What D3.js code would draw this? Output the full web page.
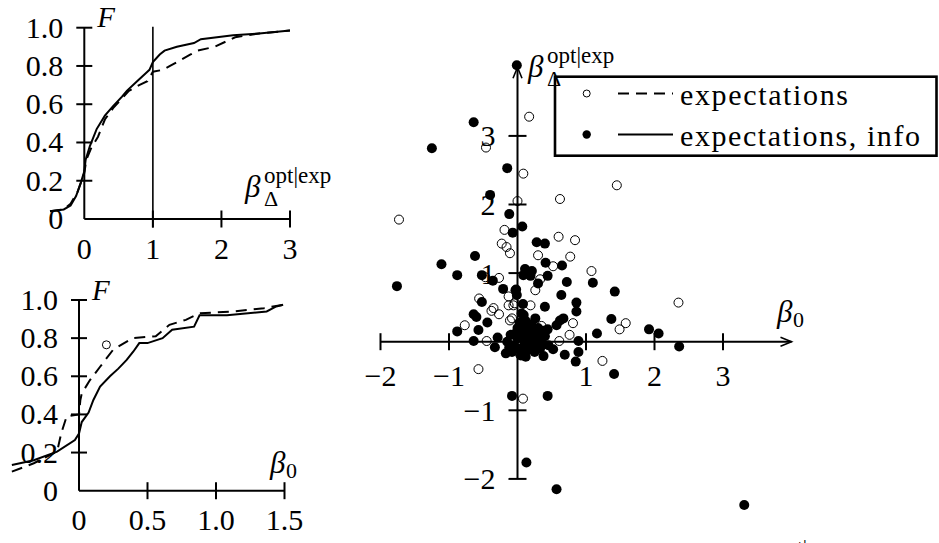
<!DOCTYPE html>
<html>
<head>
<meta charset="utf-8">
<script src="https://cdn.jsdelivr.net/npm/d3@7"></script>
<style>
body { margin: 0; background: #fff; }
svg text { font-family: "Liberation Serif", "Times New Roman", serif; fill: #000; }
</style>
</head>
<body>
<script>
// tick values / labels
let fTicks = [0, 0.2, 0.4, 0.6, 0.8, 1.0];
let fTickLabels = ["0", "0.2", "0.4", "0.6", "0.8", "1.0"];
let deltaTicks = [0, 1, 2, 3];
let deltaTickLabels = ["0", "1", "2", "3"];
let b0Ticks = [0, 0.5, 1.0, 1.5];
let b0TickLabels = ["0", "0.5", "1.0", "1.5"];
let scatterTicks = [-2, -1, 1, 2, 3];

// empirical CDF of beta_Delta^{opt|exp}  [value, F]
let cdfDeltaExp = [[-0.5, 0.04], [-0.3, 0.05], [-0.2, 0.08], [-0.1, 0.14], [-0.04, 0.2], [0, 0.24],
    [0.03, 0.31], [0.1, 0.37], [0.2, 0.43], [0.3, 0.52], [0.42, 0.58], [0.55, 0.63], [0.65, 0.67],
    [0.8, 0.7], [0.92, 0.72], [1.0, 0.77], [1.15, 0.78], [1.25, 0.8], [1.4, 0.83], [1.55, 0.86],
    [1.65, 0.88], [1.9, 0.9], [2.2, 0.95], [2.55, 0.97], [2.85, 0.98], [3.0, 0.985]];
let cdfDeltaInfo = [[-0.5, 0.04], [-0.3, 0.05], [-0.2, 0.07], [-0.12, 0.12], [-0.05, 0.19], [0, 0.25],
    [0.02, 0.31], [0.08, 0.38], [0.18, 0.47], [0.3, 0.54], [0.42, 0.59], [0.55, 0.64], [0.62, 0.67],
    [0.77, 0.72], [0.92, 0.77], [0.95, 0.78], [1.0, 0.82], [1.1, 0.86], [1.17, 0.88], [1.35, 0.9],
    [1.6, 0.92], [1.7, 0.94], [2.17, 0.96], [2.55, 0.97], [2.85, 0.98], [3.0, 0.985]];

// empirical CDF of beta_0  [value, F]
let cdfB0Exp = [[-0.49, 0.10], [-0.33, 0.144], [-0.16, 0.205], [-0.13, 0.30], [-0.09, 0.39], [0, 0.40],
    [0.01, 0.476], [0.02, 0.51], [0.08, 0.58], [0.154, 0.65], [0.25, 0.74], [0.32, 0.77], [0.39, 0.80],
    [0.56, 0.81], [0.66, 0.87], [0.78, 0.896], [0.88, 0.93], [1.13, 0.94], [1.35, 0.957], [1.49, 0.975]];
let cdfB0Info = [[-0.49, 0.135], [-0.33, 0.16], [-0.16, 0.205], [-0.03, 0.266], [0, 0.30], [0.02, 0.36],
    [0.07, 0.41], [0.105, 0.476], [0.154, 0.546], [0.226, 0.60], [0.287, 0.64], [0.348, 0.686],
    [0.397, 0.73], [0.44, 0.774], [0.5, 0.774], [0.61, 0.80], [0.68, 0.844], [0.84, 0.86], [0.88, 0.92],
    [1.08, 0.92], [1.37, 0.94], [1.44, 0.966], [1.49, 0.975]];
let cdfB0Stray = [[0.2, 0.765]];

// scatter [beta_0, beta_Delta]
let scatterExp = [[0.17, 3.28], [-0.46, 2.83], [0.085, 2.45], [1.45, 2.28], [0.62, 2.08], [0, 2.05],
    [-1.73, 1.78], [-0.19, 1.63], [-0.23, 1.43], [-0.16, 1.38], [-0.11, 1.29], [0.60, 1.53], [0.84, 1.48],
    [0.30, 1.26], [0.77, 1.24], [0.52, 1.10], [1.08, 1.03], [-0.47, 0.94], [-0.27, 0.93], [0.33, 0.91],
    [0.26, 0.75], [-0.13, 0.66], [-0.56, 0.63], [-0.35, 0.49], [-0.06, 0.53], [0.19, 0.53], [-0.38, 0.45],
    [-0.27, 0.40], [-0.11, 0.31], [-0.08, 0.34], [-0.77, 0.24], [-0.45, 0.01], [0.81, 0.27], [1.49, 0.18],
    [1.58, 0.27], [0.76, 0.10], [0.61, 0.01], [0.35, 0.23], [0.04, -0.19], [1.24, -0.28], [-0.57, -0.40],
    [0.08, -0.83], [2.35, 0.57], [-0.04, 0.56], [-0.13, 0.53]];
let scatterInfo = [[-0.01, 4.03], [-0.64, 3.20], [-1.25, 2.82], [-0.15, 2.53], [-0.40, 2.14], [-0.12, 1.86],
    [-0.07, 1.59], [0.07, 1.68], [-0.62, 1.25], [-1.11, 1.13], [-0.88, 0.97], [-1.76, 0.81], [-0.52, 0.97],
    [-0.36, 0.89], [-0.21, 0.77], [-0.03, 0.75], [-0.52, 0.58], [0.28, 1.45], [0.40, 1.43], [0.41, 1.15],
    [0.65, 1.11], [0.11, 1.06], [0.21, 1.03], [0.085, 0.97], [0.19, 0.96], [0.44, 0.96], [0.30, 0.85],
    [0.72, 0.87], [1.10, 0.86], [-0.02, 0.76], [0.64, 0.68], [1.42, 0.73], [0.86, 0.57], [-0.01, 0.68],
    [0.08, 0.55], [0.40, 0.51], [-0.64, 0.40], [-0.60, 0.36], [-0.44, 0.28], [-0.88, 0.15], [-0.57, 0.17],
    [-0.64, 0.01], [-0.29, 0.06], [-0.33, -0.08], [-0.17, -0.17], [0.86, 0.44], [0.09, 0.39], [0.06, 0.41],
    [0.26, 0.34], [0.62, 0.31], [0.67, 0.34], [0.57, 0.24], [1.37, 0.33], [1.92, 0.18], [2.06, 0.12],
    [2.36, -0.07], [1.16, 0.12], [0.44, 0.18], [0.89, 0.01], [0.89, -0.15], [0.52, -0.11], [0.69, -0.19],
    [0.38, -0.21], [0.85, -0.29], [1.41, -0.47], [-0.08, -0.79], [0.44, -0.79], [0.13, -1.76],
    [0.57, -2.15], [3.31, -2.38],
    [-0.1, 0.1], [0, 0.05], [0.1, 0.0], [0.2, 0.05], [0.3, 0.1], [0.05, -0.1], [0.15, -0.12],
    [0.25, -0.05], [-0.05, -0.05], [0.35, 0.0], [0.1, 0.2], [0.2, 0.25], [0.3, 0.2], [0.4, 0.08],
    [0.45, -0.05], [0.0, 0.2], [-0.15, 0.0], [0.05, -0.2], [0.25, -0.15], [0.15, 0.1], [-0.08, -0.15],
    [0.0, -0.1], [0.12, 0.3], [0.03, 0.28], [0.18, -0.02], [0.07, 0.12], [0.22, 0.14], [0.33, -0.1],
    [-0.03, 0.12], [0.12, -0.22], [0.28, 0.02], [0.38, 0.16], [0.16, 0.2], [-0.12, -0.08]];

let legendLabels = ["expectations", "expectations, info"];

let svg = d3.select("body").append("svg")
    .attr("width", 939)
    .attr("height", 543);

let dash = "11,7";
let tickFont = 30;

// ---------- small CDF panels ----------
function cdfPanel(x, y, xTicks, xLabels, curves) {
    let g = svg.append("g");
    let x0 = x(0), y0 = y(0);

    g.append("line").attr("x1", x0).attr("x2", x0).attr("y1", y0).attr("y2", y(1))
        .attr("stroke", "#000").attr("stroke-width", 2);
    g.append("line").attr("x1", x0).attr("x2", x(d3.max(xTicks))).attr("y1", y0).attr("y2", y0)
        .attr("stroke", "#000").attr("stroke-width", 2);

    g.selectAll(".yt").data(fTicks.slice(1)).enter().append("line")
        .attr("x1", x0 - 8).attr("x2", x0 + 8)
        .attr("y1", d => y(d)).attr("y2", d => y(d))
        .attr("stroke", "#000").attr("stroke-width", 2);
    g.selectAll(".xt").data(xTicks.slice(1)).enter().append("line")
        .attr("x1", d => x(d)).attr("x2", d => x(d))
        .attr("y1", y0 - 8.5).attr("y2", y0 + 8.5)
        .attr("stroke", "#000").attr("stroke-width", 2);

    g.selectAll(".yl").data(fTicks).enter().append("text")
        .attr("x", x0 - 21)
        .attr("y", d => y(d) + 10)
        .attr("text-anchor", "end")
        .attr("font-size", tickFont)
        .text((d, i) => fTickLabels[i]);
    g.selectAll(".xl").data(xTicks).enter().append("text")
        .attr("x", d => x(d))
        .attr("y", y0 + 39.5)
        .attr("text-anchor", "middle")
        .attr("font-size", tickFont)
        .text((d, i) => xLabels[i]);

    g.append("text")
        .attr("x", x0 + 13).attr("y", y(1) - 0.5)
        .attr("font-size", 29).attr("font-style", "italic")
        .text("F");

    let line = d3.line().x(d => x(d[0])).y(d => y(d[1]));
    curves.forEach(function (c) {
        g.append("path")
            .attr("d", line(c.data))
            .attr("fill", "none")
            .attr("stroke", "#000")
            .attr("stroke-width", 2)
            .attr("stroke-dasharray", c.dashed ? dash : null);
    });
    return g;
}

function betaLabel(x, yBase, sup, sub, size) {
    svg.append("text").attr("x", x).attr("y", yBase)
        .attr("font-size", size).attr("font-style", "italic").text("β");
    if (sup)
        svg.append("text").attr("x", x + 19).attr("y", yBase - 14)
            .attr("font-size", 23).text(sup);
    if (sub)
        svg.append("text").attr("x", x + (sup ? 19 : 16)).attr("y", yBase + (sup ? 9 : 5))
            .attr("font-size", 22).text(sub);
}

let xTop = d3.scaleLinear().domain([0, 3]).range([84.3, 290]);
let yTop = d3.scaleLinear().domain([0, 1]).range([219, 27.7]);
let gTop = cdfPanel(xTop, yTop, deltaTicks, deltaTickLabels, [
    { data: cdfDeltaExp, dashed: true },
    { data: cdfDeltaInfo, dashed: false }
]);
gTop.append("line")
    .attr("x1", xTop(1)).attr("x2", xTop(1))
    .attr("y1", yTop(1.005)).attr("y2", yTop(0) + 8.5)
    .attr("stroke", "#000").attr("stroke-width", 1.6);
betaLabel(245, 197, "opt|exp", "Δ", 31);

let xBot = d3.scaleLinear().domain([0, 1.5]).range([79, 284.5]);
let yBot = d3.scaleLinear().domain([0, 1]).range([490.7, 300]);
let gBot = cdfPanel(xBot, yBot, b0Ticks, b0TickLabels, [
    { data: cdfB0Exp, dashed: true },
    { data: cdfB0Info, dashed: false }
]);
gBot.selectAll(".stray").data(cdfB0Stray).enter().append("circle")
    .attr("cx", d => xBot(d[0])).attr("cy", d => yBot(d[1])).attr("r", 4)
    .attr("fill", "none").attr("stroke", "#000").attr("stroke-width", 1);
betaLabel(270, 473, null, "0", 31);

// ---------- scatter ----------
let xSc = d3.scaleLinear().domain([-2, 4]).range([380.5, 791.5]);
let ySc = d3.scaleLinear().domain([-2, 4]).range([478.9, 67.3]);
let gs = svg.append("g");
let ox = xSc(0), oy = ySc(0);

gs.append("line").attr("x1", xSc(-2)).attr("x2", xSc(4)).attr("y1", oy).attr("y2", oy)
    .attr("stroke", "#000").attr("stroke-width", 2);
gs.append("line").attr("x1", ox).attr("x2", ox).attr("y1", ySc(-2)).attr("y2", ySc(4))
    .attr("stroke", "#000").attr("stroke-width", 2);
// arrow heads
gs.append("path")
    .attr("d", "M" + (xSc(4) - 11) + "," + (oy - 4.5) + "L" + xSc(4) + "," + oy + "L" + (xSc(4) - 11) + "," + (oy + 4.5))
    .attr("fill", "none").attr("stroke", "#000").attr("stroke-width", 1.6);
gs.append("path")
    .attr("d", "M" + (ox - 4.5) + "," + (ySc(4) + 11) + "L" + ox + "," + ySc(4) + "L" + (ox + 4.5) + "," + (ySc(4) + 11))
    .attr("fill", "none").attr("stroke", "#000").attr("stroke-width", 1.6);

gs.selectAll(".sxt").data(scatterTicks).enter().append("line")
    .attr("x1", d => xSc(d)).attr("x2", d => xSc(d))
    .attr("y1", oy - 8.5).attr("y2", oy + 8.5)
    .attr("stroke", "#000").attr("stroke-width", 2);
gs.selectAll(".syt").data(scatterTicks).enter().append("line")
    .attr("x1", ox - 9).attr("x2", ox + 9)
    .attr("y1", d => ySc(d)).attr("y2", d => ySc(d))
    .attr("stroke", "#000").attr("stroke-width", 2);

function fmt(d) {
    return d < 0 ? "\u2212" + Math.abs(d) : String(d);
}
gs.selectAll(".sxl").data(scatterTicks).enter().append("text")
    .attr("x", d => xSc(d)).attr("y", oy + 44.5)
    .attr("text-anchor", "middle").attr("font-size", tickFont)
    .text(fmt);
gs.selectAll(".syl").data(scatterTicks).enter().append("text")
    .attr("x", ox - 22).attr("y", d => ySc(d) + 10.5)
    .attr("text-anchor", "end").attr("font-size", tickFont)
    .text(fmt);

gs.selectAll(".pe").data(scatterExp).enter().append("circle")
    .attr("cx", d => xSc(d[0])).attr("cy", d => ySc(d[1])).attr("r", 4.5)
    .attr("fill", "none").attr("stroke", "#000").attr("stroke-width", 1);
gs.selectAll(".pi").data(scatterInfo).enter().append("circle")
    .attr("cx", d => xSc(d[0])).attr("cy", d => ySc(d[1])).attr("r", 5)
    .attr("fill", "#000");

betaLabel(777, 322, null, "0", 31);

// legend
let lg = svg.append("g");
lg.append("rect")
    .attr("x", 555).attr("y", 76.7).attr("width", 381.5).attr("height", 79)
    .attr("fill", "#fff").attr("stroke", "#000").attr("stroke-width", 2.6);
let rows = [93.5, 134.5];
legendLabels.forEach(function (lab, i) {
    let yy = rows[i];
    if (i == 0) {
        lg.append("circle").attr("cx", 586.7).attr("cy", yy).attr("r", 3.5)
            .attr("fill", "none").attr("stroke", "#000").attr("stroke-width", 1);
    } else {
        lg.append("circle").attr("cx", 586.7).attr("cy", yy).attr("r", 4.2).attr("fill", "#000");
    }
    lg.append("line").attr("x1", 618).attr("x2", 673).attr("y1", yy).attr("y2", yy)
        .attr("stroke", "#000").attr("stroke-width", 2)
        .attr("stroke-dasharray", i == 0 ? dash : null);
    lg.append("text").attr("x", 680).attr("y", yy + 11.5)
        .attr("font-size", 30)
        .attr("textLength", i == 0 ? 168 : 240)
        .attr("lengthAdjust", "spacing")
        .text(lab);
});

betaLabel(528, 77, "opt|exp", "Δ", 31);

// cut-off label at the bottom edge
svg.append("text").attr("x", 776).attr("y", 554).attr("font-size", 21).text("opt|exp");
</script>
</body>
</html>
